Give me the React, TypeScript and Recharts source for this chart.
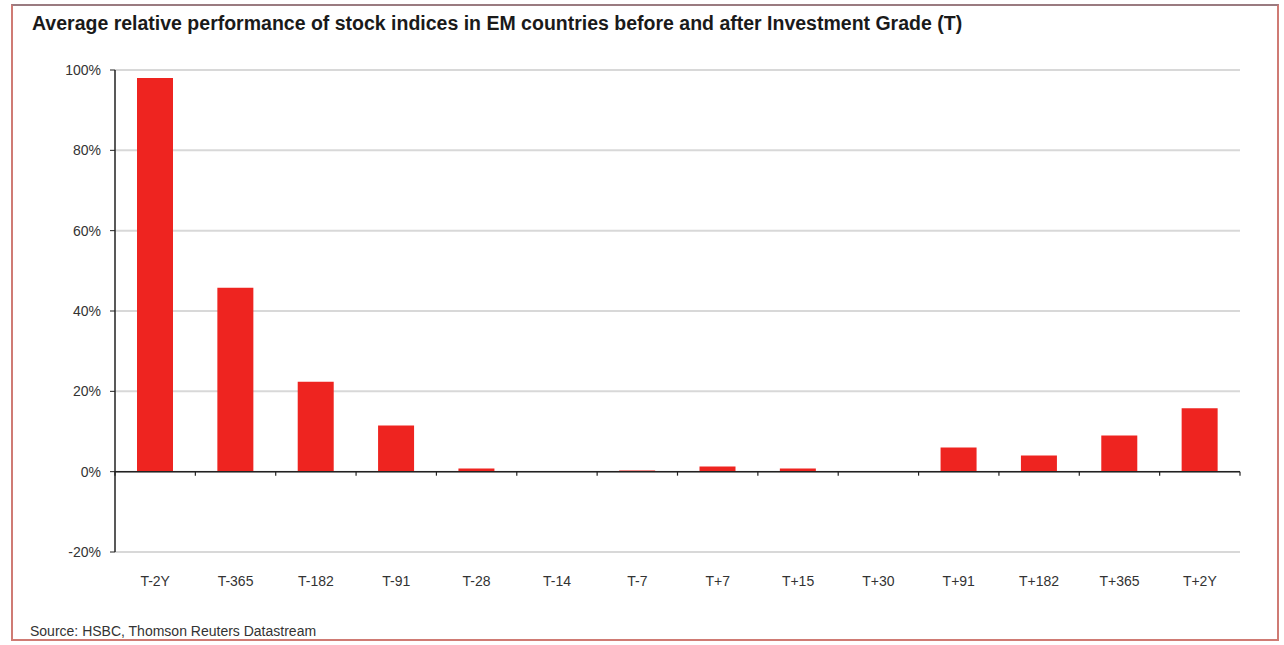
import { BarChart, Bar, XAxis, YAxis, CartesianGrid, ReferenceLine } from "recharts";

const categories = ["T-2Y", "T-365", "T-182", "T-91", "T-28", "T-14", "T-7", "T+7", "T+15", "T+30", "T+91", "T+182", "T+365", "T+2Y"];
const performance = [98, 45.8, 22.4, 11.5, 0.8, 0, 0.3, 1.3, 0.8, 0, 6, 4, 9, 15.8];
const yTicks = [-20, 0, 20, 40, 60, 80, 100];

const data = categories.map((name, i) => ({ name, value: performance[i] }));

const font = "'Liberation Sans Narrow', 'Arial Narrow', 'Liberation Sans', Arial, sans-serif";

// zero line with the small tick marks at the category boundaries
const ZeroLine = (props: any) => {
  const { x1, x2, y1 } = props;
  const step = (x2 - x1) / categories.length;
  const marks = [];
  for (let i = 0; i <= categories.length; i++) {
    const x = x1 + i * step;
    marks.push(<line key={i} x1={x} x2={x} y1={y1} y2={y1 + 4} stroke="#222" strokeWidth={1.2} />);
  }
  return (
    <g>
      <line x1={x1} x2={x2} y1={y1} y2={y1} stroke="#222" strokeWidth={1.5} />
      {marks}
    </g>
  );
};

const App = () => {
  return (
    <div
      style={{
        position: "absolute",
        left: 0,
        top: 0,
        width: 1284,
        height: 645,
        background: "#fff",
        fontFamily: font,
      }}
    >
      <div
        style={{
          position: "absolute",
          left: 11,
          top: 4,
          width: 1268,
          height: 637,
          border: "2px solid #cf7b74",
          borderTopColor: "#9a7b80",
          boxSizing: "border-box",
        }}
      />
      <div
        style={{
          position: "absolute",
          left: 32,
          top: 12,
          fontSize: 19.5,
          fontWeight: "bold",
          color: "#1a1a1a",
          whiteSpace: "nowrap",
        }}
      >
        Average relative performance of stock indices in EM countries before and after Investment Grade (T)
      </div>
      <div
        style={{
          position: "absolute",
          left: 30,
          top: 623,
          fontSize: 14,
          color: "#333",
          whiteSpace: "nowrap",
        }}
      >
        Source: HSBC, Thomson Reuters Datastream
      </div>
      <div style={{ position: "absolute", left: 0, top: 0 }}>
        <BarChart
          width={1284}
          height={645}
          data={data}
          margin={{ top: 70, right: 44, bottom: 63, left: 55 }}
        >
          <CartesianGrid vertical={false} stroke="#d8d8d8" strokeWidth={2} />
          <XAxis
            dataKey="name"
            axisLine={false}
            tickLine={false}
            tick={{ fontSize: 14, fill: "#333", fontFamily: font }}
            tickMargin={18}
            interval={0}
          />
          <YAxis
            width={60}
            domain={[-20, 100]}
            ticks={yTicks}
            tickFormatter={(v: number) => `${v}%`}
            axisLine={{ stroke: "#222", strokeWidth: 1.5 }}
            tickLine={{ stroke: "#222" }}
            tickSize={5}
            tick={{ fontSize: 14, fill: "#333", fontFamily: font }}
            tickMargin={9}
          />
          <ReferenceLine y={0} shape={ZeroLine} />
          <Bar dataKey="value" fill="#ee2420" barSize={36} isAnimationActive={false} />
        </BarChart>
      </div>
    </div>
  );
};

export default App;
